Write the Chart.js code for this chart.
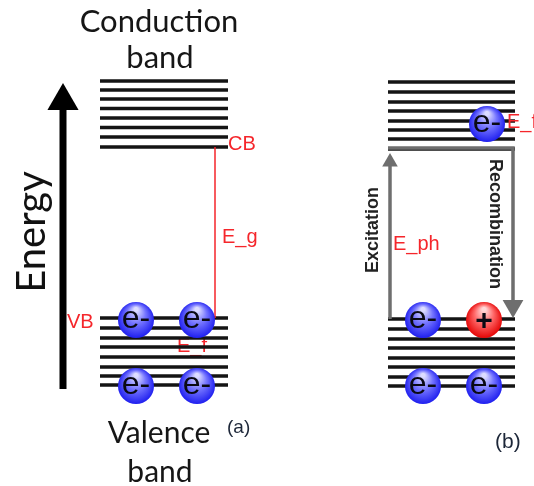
<!DOCTYPE html>
<html>
<head>
<meta charset="utf-8">
<script src="https://cdn.jsdelivr.net/npm/chart.js@4"></script>
<style>
  html, body { margin: 0; padding: 0; background: #fff; }
  #wrap { width: 534px; height: 486px; position: relative; }
</style>
</head>
<body>
<div id="wrap"><canvas id="chart"></canvas></div>
<script>
// Energy levels of each band (energy grows upwards)
const conductionA = [405, 396, 387, 377.5, 368, 358.5, 349, 339];
const valenceA = [168, 158, 148, 139, 129, 119, 110, 101];
const conductionB = [404, 394, 384, 375, 365, 356, 347, 337];
const valenceB = [167, 157, 147, 138, 128, 119, 109, 100];

// horizontal extent of the band blocks in panel (a) and (b)
const bandRangeA = [100, 228];
const bandRangeB = [388, 515];

// carriers: [position, energy]
const electronsA = [[136, 166], [197, 166], [136, 100], [197, 100]];
const electronsB = [[487, 362], [423, 166], [423, 100], [484, 100]];
const holesB = [[484, 166]];

// transitions
const gapLineA = [[215, 339], [215, 168]];
const energyAxis = [[63, 97], [63, 385]];
const excitation = [[390, 167], [390, 324]];
const recombination = [[388, 338], [513, 338], [513, 180]];

const toPts = arr => arr.map(p => ({ x: p[0], y: p[1] }));

// one point pair per level, with a null between to break the line
function levelLines(levels, range) {
  const out = [];
  levels.forEach(l => {
    out.push({ x: range[0], y: l }, { x: range[1], y: l }, { x: range[1], y: null });
  });
  return out;
}

function sphere(inner, mid, outer) {
  return ctx => {
    if (ctx.type !== 'data' || !ctx.parsed) return outer;
    const chart = ctx.chart;
    const x = chart.scales.x.getPixelForValue(ctx.parsed.x);
    const y = chart.scales.y.getPixelForValue(ctx.parsed.y);
    if (!isFinite(x) || !isFinite(y)) return outer;
    const r = 18;
    const g = chart.ctx.createRadialGradient(x, y - r * 0.6, r * 0.1, x, y, r * 1.05);
    g.addColorStop(0, inner);
    g.addColorStop(0.45, mid);
    g.addColorStop(1, outer);
    return g;
  };
}

const RED = '#f5262b';
const GRAY = '#6e6e6e';

// text on the diagram: x, energy
const texts = [
  { t: 'Conduction', x: 159, y: 454, font: '31px Lato', color: '#161616', align: 'center' },
  { t: 'band', x: 160, y: 418, font: '31px Lato', color: '#161616', align: 'center' },
  { t: 'Valence', x: 159, y: 43, font: '30px Lato', color: '#161616', align: 'center' },
  { t: 'band', x: 160, y: 4, font: '30px Lato', color: '#161616', align: 'center' },
  { t: 'Energy', x: 45, y: 254, font: '40px Lato', color: '#111', align: 'center', rot: -90 },
  { t: 'Excitation', x: 378, y: 256, font: 'bold 18px "Liberation Sans"', color: '#222', align: 'center', rot: -90 },
  { t: 'Recombination', x: 490, y: 262, font: 'bold 18px "Liberation Sans"', color: '#222', align: 'center', rot: 90 },
  { t: 'CB', x: 228, y: 336, font: '20px "Liberation Sans"', color: RED, align: 'left' },
  { t: 'VB', x: 67, y: 158, font: '20px "Liberation Sans"', color: RED, align: 'left' },
  { t: 'E_g', x: 222, y: 243, font: '20px "Liberation Sans"', color: RED, align: 'left' },
  { t: 'E_ph', x: 393, y: 236, font: '20px "Liberation Sans"', color: RED, align: 'left' },
  { t: 'E_f', x: 507, y: 358, font: '20px "Liberation Sans"', color: RED, align: 'left' },
  { t: '(a)', x: 227, y: 53, font: '19px "Liberation Sans"', color: '#1c2638', align: 'left' },
  { t: '(b)', x: 495, y: 38, font: '21px "Liberation Sans"', color: '#1c2638', align: 'left' }
];
// drawn under the band lines
const textsBehind = [
  { t: 'E_f', x: 177, y: 134, font: '20px "Liberation Sans"', color: RED, align: 'left' }
];

function drawTexts(chart, list) {
  const c = chart.ctx;
  const sx = chart.scales.x, sy = chart.scales.y;
  list.forEach(o => {
    c.save();
    c.font = o.font;
    c.fillStyle = o.color;
    c.textAlign = o.align;
    c.textBaseline = 'alphabetic';
    c.translate(sx.getPixelForValue(o.x), sy.getPixelForValue(o.y));
    if (o.rot) c.rotate(o.rot * Math.PI / 180);
    c.fillText(o.t, 0, 0);
    c.restore();
  });
}

const labelPlugin = {
  id: 'labels',
  beforeDatasetsDraw(chart) {
    drawTexts(chart, textsBehind);
  },
  afterDatasetsDraw(chart) {
    const c = chart.ctx;
    chart.data.datasets.forEach((ds, i) => {
      if (!ds.carrier) return;
      chart.getDatasetMeta(i).data.forEach(el => {
        c.save();
        c.fillStyle = '#0a0a14';
        c.textAlign = 'center';
        c.textBaseline = 'alphabetic';
        if (ds.carrier === 'e') {
          c.font = '32px "Liberation Sans"';
          c.fillText('e-', el.x, el.y + 8);
        } else {
          c.font = 'bold 30px "Liberation Sans"';
          c.fillText('+', el.x, el.y + 10);
        }
        c.restore();
      });
    });
    drawTexts(chart, texts);
  }
};

const bandStyle = {
  showLine: true,
  borderColor: '#141414',
  borderWidth: 3.5,
  pointRadius: 0,
  spanGaps: false,
  order: 5
};

const chart = new Chart(document.getElementById('chart'), {
  type: 'scatter',
  data: {
    datasets: [
      { ...bandStyle, data: levelLines(conductionA, bandRangeA) },
      { ...bandStyle, data: levelLines(valenceA, bandRangeA) },
      { ...bandStyle, data: levelLines(conductionB, bandRangeB) },
      { ...bandStyle, data: levelLines(valenceB, bandRangeB) },
      {
        data: toPts(gapLineA), showLine: true, borderColor: RED, borderWidth: 1.5,
        pointRadius: 0, order: 4
      },
      {
        data: toPts(energyAxis), showLine: true, borderColor: '#000', borderWidth: 7,
        pointRadius: [0, 18], pointStyle: 'triangle', pointBackgroundColor: '#000',
        pointBorderWidth: 0, order: 4
      },
      {
        data: toPts(excitation), showLine: true, borderColor: GRAY, borderWidth: 3.5,
        pointRadius: [0, 9], pointStyle: 'triangle', pointBackgroundColor: GRAY,
        pointBorderWidth: 0, order: 3
      },
      {
        data: toPts(recombination), showLine: true, borderColor: GRAY, borderWidth: 3.5,
        pointRadius: [0, 0, 12], pointStyle: 'triangle', pointRotation: 180,
        pointBackgroundColor: GRAY, pointBorderWidth: 0, order: 3
      },
      {
        data: toPts(electronsA.concat(electronsB)), carrier: 'e', pointRadius: 18,
        pointBorderWidth: 0, backgroundColor: sphere('#dcdcff', '#7676ff', '#1a1aee'), order: 1
      },
      {
        data: toPts(holesB), carrier: 'h', pointRadius: 18,
        pointBorderWidth: 0, backgroundColor: sphere('#ffd6d6', '#ff6a6a', '#e30000'), order: 1
      }
    ]
  },
  options: {
    responsive: true,
    maintainAspectRatio: false,
    animation: false,
    events: [],
    layout: { padding: 0, autoPadding: false },
    plugins: {
      legend: { display: false },
      tooltip: { enabled: false }
    },
    scales: {
      x: { type: 'linear', min: 0, max: 534, display: false },
      y: { type: 'linear', min: 0, max: 486, display: false }
    }
  },
  plugins: [labelPlugin]
});
chart.update();
</script>
</body>
</html>
